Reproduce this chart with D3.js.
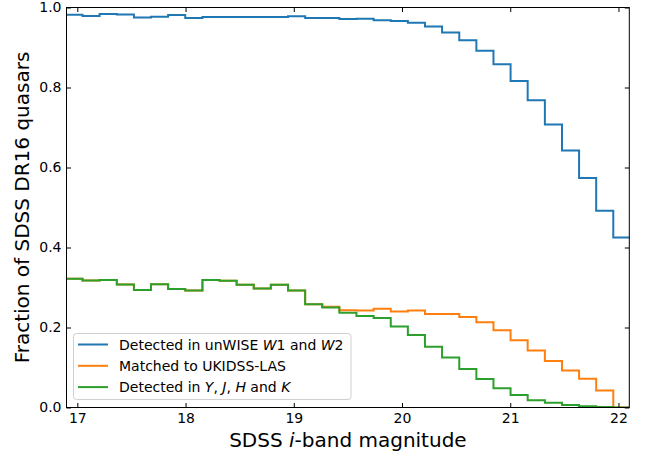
<!DOCTYPE html>
<html><head><meta charset="utf-8">
<script src="https://cdn.jsdelivr.net/npm/d3@7"></script>
<style>body{margin:0;background:#fff;}svg{display:block;font-family:"DejaVu Sans",sans-serif;}</style>
</head><body><svg id="c" width="653" height="456"></svg>
<script>
// Bin edges (SDSS i-band magnitude)
const binEdges = [16.890,17.048,17.206,17.365,17.523,17.681,17.839,17.997,18.156,18.314,18.472,18.630,18.788,18.947,19.105,19.263,19.421,19.579,19.738,19.896,20.054,20.212,20.370,20.529,20.687,20.845,21.003,21.161,21.320,21.478,21.636,21.794,21.952,22.111];
const unwiseFrac = [0.982,0.979,0.984,0.9825,0.975,0.977,0.981,0.974,0.976,0.976,0.976,0.976,0.976,0.978,0.974,0.974,0.971,0.972,0.968,0.966,0.962,0.9525,0.9375,0.918,0.892,0.858,0.816,0.768,0.7075,0.6425,0.574,0.492,0.425];
const ukidssFrac = [0.3217,0.3175,0.319,0.3075,0.294,0.308,0.296,0.2925,0.319,0.3167,0.3067,0.2975,0.3067,0.2925,0.258,0.252,0.243,0.2425,0.247,0.24,0.2425,0.234,0.234,0.226,0.213,0.193,0.168,0.1425,0.116,0.0925,0.072,0.0425,0.0];
const yjhkFrac = [0.3217,0.3175,0.319,0.3075,0.294,0.308,0.296,0.2925,0.319,0.3167,0.3067,0.2975,0.3067,0.2925,0.258,0.25,0.237,0.229,0.224,0.2025,0.181,0.152,0.125,0.096,0.071,0.048,0.031,0.018,0.012,0.006,0.003,0.001,0.0];
const xTicks = [17,18,19,20,21,22];
const yTicks = [0.0,0.2,0.4,0.6,0.8,1.0];
const seriesNames = ["unwise","ukidss","yjhk"];
const colors = ["#1f77b4","#ff7f0e","#2ca02c"];

const svg = d3.select("#c");
const L=66.5, R=629.3, T=7.5, B=407.5;
const x = d3.scaleLinear().domain([16.9,22.1]).range([L,R]);
const y = d3.scaleLinear().domain([0,1]).range([B,T]);

svg.append("defs").append("clipPath").attr("id","clip").append("rect")
  .attr("x",L).attr("y",T).attr("width",R-L).attr("height",B-T);

function stepPts(vals){
  const pts=[[binEdges[0],0]];
  vals.forEach((v,i)=>{pts.push([binEdges[i],v]);pts.push([binEdges[i+1],v]);});
  pts.push([binEdges[binEdges.length-1],0]);
  return pts;
}
const line = d3.line().x(d=>x(d[0])).y(d=>y(d[1]));
const g = svg.append("g").attr("clip-path","url(#clip)");
[unwiseFrac,ukidssFrac,yjhkFrac].forEach((vals,i)=>{
  g.append("path").attr("d",line(stepPts(vals))).attr("fill","none")
   .attr("stroke",colors[i]).attr("stroke-width",2).attr("stroke-linejoin","miter");
});

// axes with inward ticks on all sides
const tl=4.5;
const ax = svg.append("g").attr("transform",`translate(0,${B})`)
  .call(d3.axisBottom(x).tickValues(xTicks).tickSizeInner(-tl).tickSizeOuter(0).tickPadding(5.5).tickFormat(d3.format("d")));
const axT = svg.append("g").attr("transform",`translate(0,${T})`)
  .call(d3.axisTop(x).tickValues(xTicks).tickSizeInner(-tl).tickSizeOuter(0).tickFormat(""));
const ay = svg.append("g").attr("transform",`translate(${L},0)`)
  .call(d3.axisLeft(y).tickValues(yTicks).tickSizeInner(-tl).tickSizeOuter(0).tickPadding(5).tickFormat(d3.format(".1f")));
const ayR = svg.append("g").attr("transform",`translate(${R},0)`)
  .call(d3.axisRight(y).tickValues(yTicks).tickSizeInner(-tl).tickSizeOuter(0).tickFormat(""));
[ax,axT,ay,ayR].forEach(a=>{
  a.select(".domain").remove();
  a.selectAll("line").attr("stroke","#000").attr("stroke-width",1);
  a.selectAll("text").attr("font-family","DejaVu Sans").attr("font-size",14).attr("fill","#000");
});
svg.append("rect").attr("x",L).attr("y",T).attr("width",R-L).attr("height",B-T)
  .attr("fill","none").attr("stroke","#000").attr("stroke-width",1);

// axis labels
const xl = svg.append("text").attr("x",(L+R)/2).attr("y",446.5).attr("text-anchor","middle")
  .attr("font-size",20).attr("fill","#000");
xl.append("tspan").text("SDSS ");
xl.append("tspan").attr("font-style","italic").text("i");
xl.append("tspan").text("-band magnitude");
svg.append("text").attr("transform",`translate(29,${(T+B)/2}) rotate(-90)`).attr("text-anchor","middle")
  .attr("font-size",20).attr("fill","#000").text("Fraction of SDSS DR16 quasars");

// legend
const lg = svg.append("g");
lg.append("rect").attr("x",73.5).attr("y",333.5).attr("width",277.5).attr("height",66)
  .attr("rx",3).attr("fill","#fff").attr("fill-opacity",0.8).attr("stroke","#d0d0d0").attr("stroke-width",1);
const labels = [
  [["Detected in unWISE ",false],["W",true],["1 and ",false],["W",true],["2",false]],
  [["Matched to UKIDSS-LAS",false]],
  [["Detected in ",false],["Y",true],[", ",false],["J",true],[", ",false],["H",true],[" and ",false],["K",true]]
];
labels.forEach((parts,i)=>{
  const yy = 344.5 + i*21.3;
  lg.append("line").attr("x1",78).attr("x2",108).attr("y1",yy).attr("y2",yy)
    .attr("stroke",colors[i]).attr("stroke-width",2);
  const t = lg.append("text").attr("x",119).attr("y",yy+5).attr("font-size",14).attr("fill","#000");
  parts.forEach(p=>{t.append("tspan").attr("font-style",p[1]?"italic":"normal").text(p[0]);});
});
</script></body></html>
